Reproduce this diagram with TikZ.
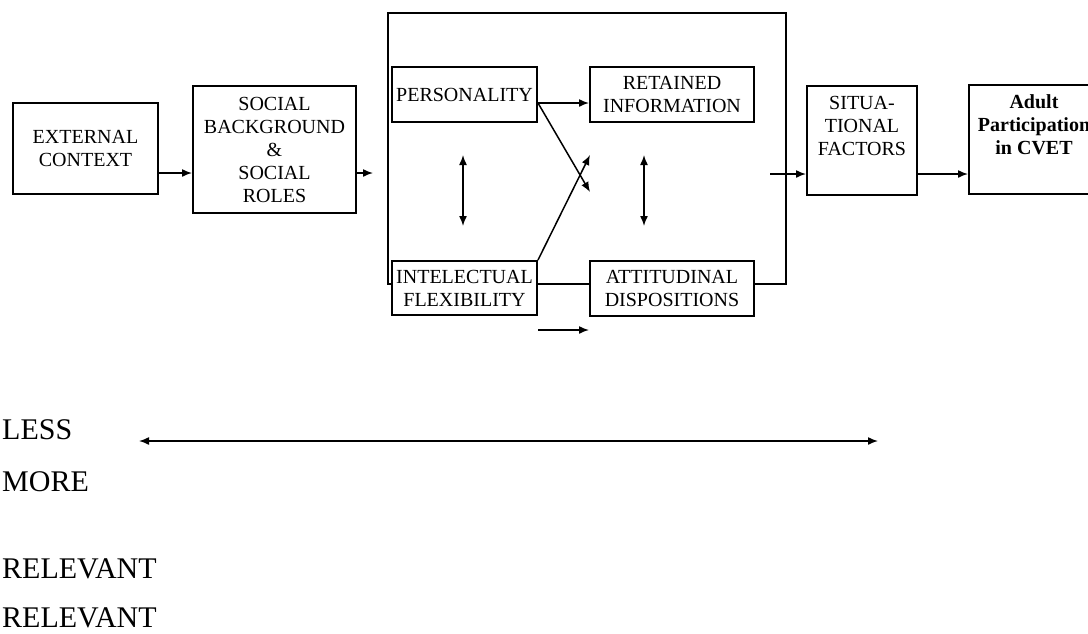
\documentclass[tikz,border=0pt]{standalone}
\usepackage{fontspec}
\setmainfont{Liberation Serif}
\usetikzlibrary{arrows.meta}

\begin{document}
\begin{tikzpicture}[x=1pt,y=-1pt,>={Latex[length=10pt,width=8pt]}]
	\tikzstyle{every node}=[inner sep=0pt]
	\tikzstyle{factor}=[draw,line width=2pt,fill=white,align=center,
	font=\fontsize{20}{23}\selectfont,anchor=north west]
	\tikzstyle{link}=[line width=1.5pt]
	\tikzstyle{scale text}=[font=\fontsize{30}{36}\selectfont,anchor=base west]
	\useasboundingbox (0,0) rectangle (1088,633);
	% frame round the four inner factors
	\node[draw,line width=2pt,minimum width=398.5pt,minimum height=271pt,
	anchor=north west] (core) at (386.5,12.3) {};
	\node[factor,minimum width=145pt,minimum height=91pt] (ext) at (12,102) {EXTERNAL\\CONTEXT};
	\node[factor,minimum width=163pt,minimum height=127pt] (social) at (192,85)
	{SOCIAL\\BACKGROUND\\\&\\SOCIAL\\ROLES};
	\node[factor,minimum width=145pt,minimum height=55pt] (pers) at (391,66) {PERSONALITY};
	\node[factor,minimum width=164pt,minimum height=55pt] (retained) at (589,66)
	{RETAINED\\INFORMATION};
	\node[factor,minimum width=145pt,minimum height=54pt] (intel) at (391,260)
	{INTELECTUAL\\FLEXIBILITY};
	\node[factor,minimum width=164pt,minimum height=55pt] (attit) at (589,260)
	{ATTITUDINAL\\DISPOSITIONS};
	\node[factor] (situ) at (806,85)
	{\parbox[c][109pt][t]{110pt}{\centering\rule{0pt}{23pt}SITUA-\\TIONAL\\FACTORS}};
	\node[factor] (adult) at (968,84)
	{\parbox[c][109pt][t]{130pt}{\centering\bfseries\rule{0pt}{23pt}Adult\\Participation\\in CVET}};
	% connectors
	\coordinate (row) at (0,173);
	\coordinate (socout) at (373,173);
	\coordinate (upper) at (0,103);
	\coordinate (lower) at (0,330);
	\coordinate (pdown) at (590,192);
	\coordinate (iup) at (590,155);
	\coordinate (lefttop) at (463,155);
	\coordinate (leftbot) at (463,226);
	\coordinate (righttop) at (644,155);
	\coordinate (rightbot) at (644,226);
	\coordinate (sitin) at (770,174);
	\draw[link,->] (ext.east |- row) -- (social.west |- row);
	\draw[link,->] (social.east |- socout) -- (socout);
	\draw[link,->] (pers.east |- upper) -- (retained.west |- upper);
	\draw[link,->] (pers.east |- upper) -- (pdown);
	\draw[link,->] (intel.north east) -- (iup);
	\draw[link,<->] (lefttop) -- (leftbot);
	\draw[link,<->] (righttop) -- (rightbot);
	\draw[link,->] (intel.east |- lower) -- (attit.west |- lower);
	\draw[link,->] (sitin) -- (situ.west |- sitin);
	\draw[link,->] (situ.east |- sitin) -- (adult.west |- sitin);
	% scale below
	\node[scale text] (less) at (2,439) {LESS};
	\node[scale text] (more) at (2,491) {MORE};
	\node[scale text] (rel1) at (2,578) {RELEVANT};
	\node[scale text] (rel2) at (2,627) {RELEVANT};
	\coordinate (scaleleft) at (139,441);
	\coordinate (scaleright) at (878,441);
	\draw[link,<->] (scaleleft) -- (scaleright);
\end{tikzpicture}
\end{document}
